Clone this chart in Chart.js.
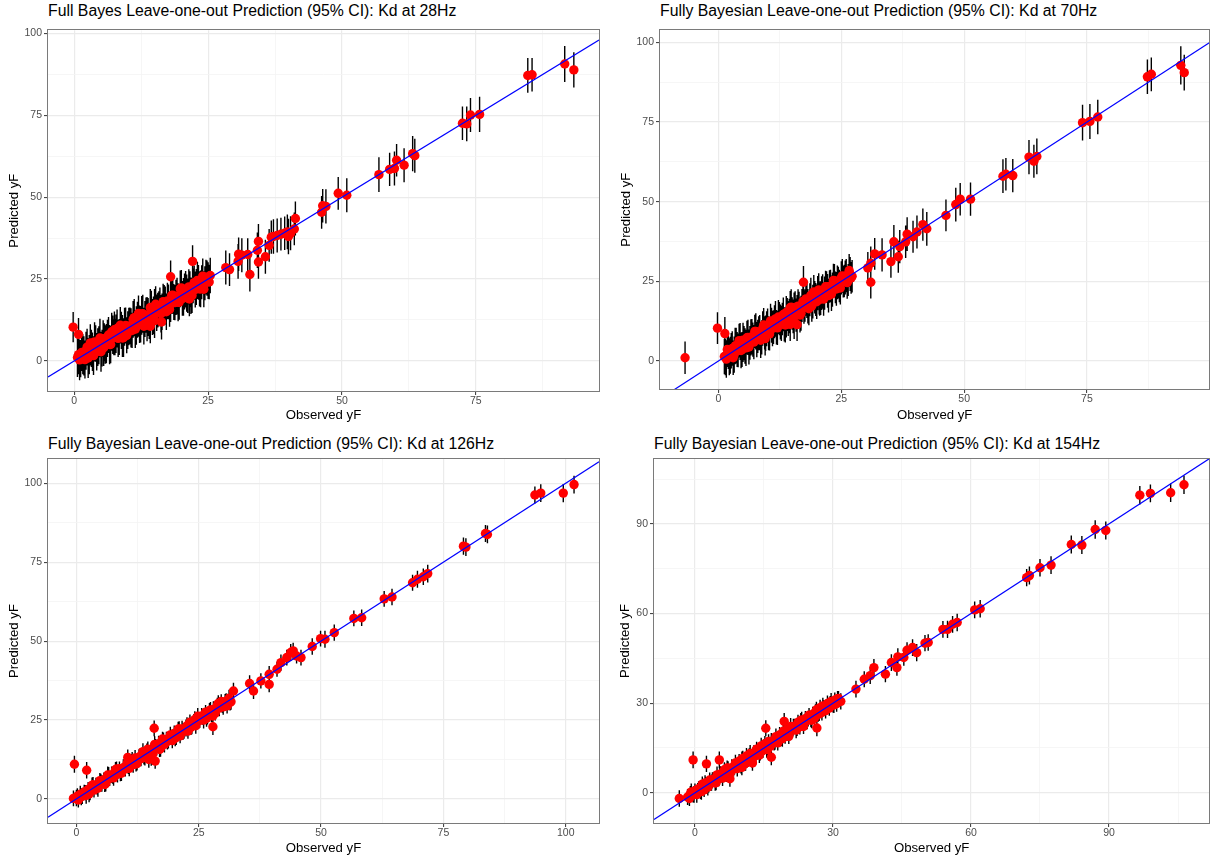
<!DOCTYPE html>
<html lang="en">
<head>
    <meta charset="UTF-8">
    <title>Fully Bayesian Leave-one-out Prediction</title>
    <script src="https://cdn.jsdelivr.net/npm/chart.js"></script>
    <style>
        body {
            margin: 0;
            background: #ffffff;
            font-family: "Liberation Sans", Arial, sans-serif;
        }
        #page {
            position: relative;
            width: 1214px;
            height: 858px;
            overflow: hidden;
            background: #ffffff;
        }
        .plot-title {
            position: absolute;
            font-size: 15.8px;
            line-height: 18px;
            color: #000000;
            white-space: nowrap;
        }
        canvas {
            position: absolute;
        }
    </style>
</head>
<body>
<div id="page">
    <div class="plot-title" id="t28">Full Bayes Leave-one-out Prediction (95% CI): Kd at 28Hz</div>
    <div class="plot-title" id="t70">Fully Bayesian Leave-one-out Prediction (95% CI): Kd at 70Hz</div>
    <div class="plot-title" id="t126">Fully Bayesian Leave-one-out Prediction (95% CI): Kd at 126Hz</div>
    <div class="plot-title" id="t154">Fully Bayesian Leave-one-out Prediction (95% CI): Kd at 154Hz</div>
    <canvas id="c28" width="607" height="406"></canvas>
    <canvas id="c70" width="607" height="406"></canvas>
    <canvas id="c126" width="607" height="408"></canvas>
    <canvas id="c154" width="607" height="408"></canvas>
</div>

<script>
    // Values: observed yF, predicted mean, half width of the 95% CI

    // 28Hz
    const obs28 = [
        0.6, 1.0, 1.4, 1.8, 2.2, 2.6, 3.0, 3.4, 3.8, 4.2,
        4.6, 5.0, 5.4, 5.8, 6.2, 6.6, 7.0, 7.4, 7.8, 8.2,
        8.6, 9.0, 9.4, 9.8, 10.2, 10.6, 11.0, 11.4, 11.8, 12.2,
        12.6, 13.0, 13.4, 13.8, 14.2, 14.6, 15.0, 15.4, 15.8, 16.2,
        16.6, 17.0, 17.4, 17.8, 18.2, 18.6, 19.0, 19.4, 19.8, 20.2,
        20.6, 21.0, 21.4, 21.8, 22.2, 22.6, 23.0, 23.4, 23.8, 24.2,
        24.6, 25.0, 25.4, -0.2, 0.8, 14.2, 16.3, 15.0, 13.6, 20.4,
        21.5, 18.0, 22.1, 5.5, 9.0, 12.0, 3.0, 7.5, 28.3, 29.0,
        30.6, 30.7, 31.3, 32.4, 32.8, 34.2, 34.4, 34.4, 35.7, 36.4,
        36.8, 37.2, 37.9, 38.6, 39.3, 39.8, 40.4, 40.0, 41.1, 41.3,
        46.2, 46.4, 47.0, 49.3, 50.9, 56.9, 58.9, 59.8, 60.2, 61.6,
        63.2, 63.6, 72.5, 73.3, 74.0, 75.7, 84.7, 85.5, 91.6, 93.3,
        0.8, 1.2, 1.6, 2.0, 2.4, 2.8, 3.2, 3.6, 4.0, 4.4,
        4.8, 5.2, 5.6, 6.0, 6.4, 6.8, 7.2, 7.6, 8.0, 8.4,
        8.8, 9.2, 9.6, 10.0, 10.4, 10.8, 11.2, 11.6, 12.0, 12.4,
        12.8, 13.2, 13.6, 14.0, 14.4, 14.8, 15.2, 15.6, 16.0, 16.4,
        16.8, 17.2, 17.6, 18.0, 18.4, 18.8, 19.2, 19.6, 20.0, 20.4,
        20.8, 21.2, 21.6, 22.0, 22.4, 22.8, 23.2, 23.6, 24.0, 24.4,
        24.8, 25.2
    ];
    const pred28 = [
        1.0, 0.3, 2.6, 1.5, 3.1, 0.9, 4.2, 2.8, 5.8, 2.8,
        4.8, 2.8, 6.8, 5.0, 6.9, 5.0, 8.9, 7.2, 8.3, 6.9,
        10.9, 8.1, 10.4, 7.8, 10.5, 10.1, 12.7, 9.7, 12.6, 11.2,
        13.9, 10.6, 14.0, 13.4, 16.3, 13.4, 16.1, 14.7, 15.9, 14.4,
        18.1, 16.9, 18.3, 15.7, 20.0, 18.0, 19.4, 17.9, 22.0, 19.1,
        21.2, 20.7, 22.6, 19.9, 22.9, 21.8, 24.6, 22.0, 24.0, 21.9,
        25.6, 24.5, 26.1, 10.3, 8.1, 10.6, 11.9, 12.3, 11.5, 19.2,
        18.9, 25.7, 30.4, 4.0, 7.0, 14.5, 5.5, 9.5, 28.5, 27.9,
        30.4, 32.6, 32.3, 32.5, 26.4, 33.8, 30.2, 36.5, 31.8, 35.3,
        37.8, 38.0, 38.3, 38.7, 39.0, 39.4, 39.0, 38.0, 40.3, 43.5,
        45.4, 47.4, 47.2, 51.2, 50.6, 56.9, 58.5, 58.8, 61.3, 59.8,
        63.3, 62.7, 72.6, 72.4, 75.1, 75.3, 87.2, 87.4, 90.7, 88.9,
        1.9, 0.7, 2.0, 0.4, 4.2, 1.9, 3.8, 1.6, 5.3, 4.2,
        7.0, 3.9, 5.7, 5.3, 7.9, 5.0, 8.0, 7.3, 9.9, 7.3,
        9.3, 7.1, 10.8, 9.4, 10.7, 9.3, 13.2, 10.8, 12.9, 11.2,
        14.4, 12.8, 13.8, 12.1, 15.8, 13.9, 17.3, 15.5, 16.7, 15.0,
        17.8, 15.0, 18.0, 17.4, 20.1, 17.8, 19.8, 17.9, 22.3, 19.9,
        21.9, 19.9, 21.9, 20.0, 23.9, 22.6, 24.0, 22.0, 25.9, 23.7,
        25.3, 24.1
    ];
    const ci28 = [
        5.9, 6.2, 5.7, 6.0, 5.8, 6.1, 5.6, 5.9, 6.0, 5.7,
        5.8, 6.1, 5.6, 5.9, 5.7, 6.0, 5.8, 5.5, 5.9, 5.7,
        5.6, 5.9, 5.8, 5.5, 5.7, 6.0, 5.6, 5.8, 5.5, 5.7,
        5.9, 5.6, 5.4, 5.8, 5.7, 5.5, 5.9, 5.6, 5.4, 5.7,
        5.5, 5.8, 5.6, 5.3, 5.7, 5.5, 5.4, 5.8, 5.6, 5.3,
        5.5, 5.7, 5.4, 5.6, 5.3, 5.5, 5.7, 5.4, 5.2, 5.5,
        5.3, 5.6, 5.4, 4.6, 5.0, 5.2, 5.4, 5.3, 5.5, 5.4,
        5.3, 5.0, 4.9, 5.6, 5.8, 5.5, 5.7, 5.6, 5.2, 5.0,
        5.3, 5.1, 5.2, 5.0, 5.2, 5.4, 5.1, 5.3, 5.2, 5.0,
        5.1, 5.3, 5.2, 5.0, 5.1, 5.3, 5.2, 5.4, 5.0, 5.2,
        5.0, 5.1, 5.2, 5.0, 5.2, 5.3, 5.1, 5.2, 5.0, 5.2,
        5.4, 5.2, 5.1, 5.3, 5.2, 5.4, 5.3, 5.1, 5.5, 5.4,
        6.0, 5.7, 6.1, 5.8, 5.6, 6.0, 5.7, 5.9, 5.6, 5.8,
        5.9, 5.6, 5.8, 6.0, 5.5, 5.7, 5.9, 5.6, 5.8, 5.5,
        5.7, 5.9, 5.5, 5.8, 5.6, 5.4, 5.7, 5.9, 5.5, 5.6,
        5.8, 5.5, 5.7, 5.4, 5.6, 5.8, 5.5, 5.3, 5.7, 5.6,
        5.4, 5.6, 5.3, 5.5, 5.7, 5.4, 5.6, 5.3, 5.5, 5.4,
        5.6, 5.3, 5.5, 5.4, 5.2, 5.5, 5.3, 5.6, 5.4, 5.2,
        5.4, 5.3
    ];

    // 70Hz
    const obs70 = [
        1.2, 1.6, 2.0, 2.4, 2.8, 3.2, 3.6, 4.0, 4.4, 4.8,
        5.2, 5.6, 6.0, 6.4, 6.8, 7.2, 7.6, 8.0, 8.4, 8.8,
        9.2, 9.6, 10.0, 10.4, 10.8, 11.2, 11.6, 12.0, 12.4, 12.8,
        13.2, 13.6, 14.0, 14.4, 14.8, 15.2, 15.6, 16.0, 16.4, 16.8,
        17.2, 17.6, 18.0, 18.4, 18.8, 19.2, 19.6, 20.0, 20.4, 20.8,
        21.2, 21.6, 22.0, 22.4, 22.8, 23.2, 23.6, 24.0, 24.4, 24.8,
        25.2, 25.6, 26.0, 26.4, 26.8, 27.2, -6.8, -0.2, 1.3, 17.3,
        14.6, 15.4, 16.0, 13.8, 9.5, 5.0, 20.5, 23.0, 30.4, 31.0,
        31.0, 31.8, 33.3, 35.1, 35.7, 36.6, 36.9, 38.1, 38.4, 39.6,
        40.4, 41.6, 42.4, 46.3, 48.3, 49.2, 51.3, 57.9, 58.5, 59.9,
        63.2, 64.2, 64.8, 74.1, 75.6, 77.2, 87.3, 88.1, 94.1, 94.8,
        1.4, 1.8, 2.2, 2.6, 3.0, 3.4, 3.8, 4.2, 4.6, 5.0,
        5.4, 5.8, 6.2, 6.6, 7.0, 7.4, 7.8, 8.2, 8.6, 9.0,
        9.4, 9.8, 10.2, 10.6, 11.0, 11.4, 11.8, 12.2, 12.6, 13.0,
        13.4, 13.8, 14.2, 14.6, 15.0, 15.4, 15.8, 16.2, 16.6, 17.0,
        17.4, 17.8, 18.2, 18.6, 19.0, 19.4, 19.8, 20.2, 20.6, 21.0,
        21.4, 21.8, 22.2, 22.6, 23.0, 23.4, 23.8, 24.2, 24.6, 25.0,
        25.4, 25.8, 26.2, 26.6, 27.0
    ];
    const pred70 = [
        1.4, 0.6, 3.0, 1.8, 3.9, 2.0, 4.8, 3.3, 6.1, 3.6,
        5.6, 4.1, 7.4, 5.7, 7.6, 5.9, 9.3, 7.7, 8.9, 7.4,
        11.3, 8.7, 11.1, 8.5, 11.2, 10.6, 13.2, 10.4, 13.3, 11.8,
        14.6, 11.3, 14.6, 14.1, 16.9, 14.0, 16.8, 15.3, 16.5, 15.0,
        18.7, 17.4, 18.9, 16.4, 20.6, 18.6, 20.0, 18.6, 22.3, 19.7,
        21.8, 21.3, 23.2, 20.5, 23.5, 22.4, 25.2, 22.6, 24.6, 22.9,
        26.7, 25.1, 26.8, 25.4, 27.3, 26.6, 1.0, 10.3, 8.6, 24.7,
        11.5, 12.2, 11.4, 12.8, 7.0, 6.5, 19.8, 21.0, 29.2, 30.7,
        24.7, 33.6, 33.3, 31.2, 37.4, 32.7, 35.9, 37.4, 39.8, 39.0,
        40.5, 42.8, 41.5, 45.7, 49.1, 50.8, 50.8, 58.0, 58.6, 58.2,
        64.0, 62.7, 64.2, 74.8, 75.2, 76.6, 89.2, 90.0, 92.8, 90.5,
        1.2, 3.6, 1.3, 3.2, 1.0, 4.7, 3.6, 6.4, 3.3, 5.1,
        4.7, 7.3, 4.4, 7.4, 6.7, 9.3, 6.7, 8.7, 6.5, 10.2,
        8.8, 10.1, 8.7, 12.6, 10.2, 12.3, 10.6, 13.8, 12.2, 13.2,
        11.5, 15.2, 13.3, 16.7, 14.9, 16.1, 14.4, 17.2, 14.4, 17.4,
        16.8, 19.5, 17.2, 19.2, 17.3, 21.7, 19.3, 21.3, 19.3, 21.3,
        19.4, 23.3, 22.0, 23.4, 21.4, 25.3, 23.1, 24.7, 23.5, 26.1,
        24.9, 26.2, 24.6, 28.4, 26.1
    ];
    const ci70 = [
        5.6, 5.9, 5.5, 5.8, 5.4, 5.7, 5.6, 5.3, 5.8, 5.5,
        5.4, 5.7, 5.5, 5.3, 5.6, 5.4, 5.7, 5.2, 5.5, 5.4,
        5.3, 5.6, 5.4, 5.2, 5.5, 5.3, 5.6, 5.4, 5.2, 5.5,
        5.3, 5.5, 5.2, 5.4, 5.6, 5.3, 5.1, 5.4, 5.2, 5.5,
        5.3, 5.1, 5.4, 5.2, 5.5, 5.3, 5.1, 5.4, 5.2, 5.3,
        5.4, 5.2, 5.0, 5.3, 5.1, 5.4, 5.2, 5.3, 5.0, 5.2,
        5.3, 5.1, 5.2, 5.0, 5.3, 5.1, 5.1, 5.0, 5.2, 5.1,
        5.2, 5.3, 5.1, 5.4, 5.3, 5.5, 5.2, 5.3, 5.0, 5.2,
        5.1, 5.0, 5.2, 5.1, 5.3, 5.0, 5.2, 5.1, 5.3, 5.0,
        5.2, 5.1, 5.3, 5.0, 5.3, 5.1, 5.2, 5.3, 5.1, 5.2,
        5.4, 5.2, 5.6, 5.6, 5.5, 5.4, 5.4, 5.3, 6.0, 5.6,
        5.7, 5.5, 5.8, 5.6, 5.4, 5.7, 5.5, 5.3, 5.6, 5.4,
        5.6, 5.3, 5.5, 5.7, 5.4, 5.2, 5.5, 5.3, 5.6, 5.4,
        5.2, 5.5, 5.3, 5.4, 5.6, 5.2, 5.4, 5.3, 5.5, 5.1,
        5.4, 5.2, 5.5, 5.3, 5.1, 5.4, 5.2, 5.3, 5.5, 5.2,
        5.1, 5.3, 5.4, 5.2, 5.0, 5.3, 5.2, 5.4, 5.1, 5.3,
        5.2, 5.0, 5.3, 5.1, 5.4, 5.2, 5.0, 5.3, 5.1, 5.2,
        5.0, 5.3, 5.1, 5.2, 5.0
    ];

    // 126Hz
    const obs126 = [
        0.0, 0.4, 0.8, 1.2, 1.6, 2.0, 2.4, 2.8, 3.2, 3.6,
        4.0, 4.4, 4.8, 5.2, 5.6, 6.0, 6.4, 6.8, 7.2, 7.6,
        8.0, 8.4, 8.8, 9.2, 9.6, 10.0, 10.4, 10.8, 11.2, 11.6,
        12.0, 12.4, 12.8, 13.2, 13.6, 14.0, 14.4, 14.8, 15.2, 15.6,
        16.0, 16.4, 16.8, 17.2, 17.6, 18.0, 18.4, 18.8, 19.2, 19.6,
        20.0, 20.4, 20.8, 21.2, 21.6, 22.0, 22.4, 22.8, 23.2, 23.6,
        24.0, 24.4, 24.8, 25.2, 25.6, 26.0, 26.4, 26.8, 27.2, 27.6,
        28.0, 28.4, 28.8, 29.2, 29.6, 30.0, 30.4, 30.8, 31.2, 31.6,
        -0.6, -0.4, 2.1, 15.9, 16.1, 14.8, 15.3, 27.9, 27.9, 32.1,
        10.5, 35.4, 36.2, 37.7, 39.4, 39.4, 41.0, 41.8, 43.0, 43.8,
        44.3, 45.9, 45.0, 48.2, 49.9, 50.8, 52.7, 56.7, 58.3, 62.9,
        64.5, 68.7, 69.7, 70.9, 71.8, 79.1, 79.6, 83.6, 84.0, 93.7,
        94.9, 99.5, 101.7,
        0.2, 1.0, 1.8, 2.6, 3.4, 4.2, 5.0, 5.8, 6.6, 7.4,
        8.2, 9.0, 9.8, 10.6, 11.4, 12.2, 13.0, 13.8, 14.6, 15.4,
        16.2, 17.0, 17.8, 18.6, 19.4, 20.2, 21.0, 21.8, 22.6, 23.4,
        24.2, 25.0, 25.8, 26.6, 27.4, 28.2, 29.0, 29.8, 30.6, 31.4
    ];
    const pred126 = [
        0.3, -0.3, 1.5, 0.9, 2.2, 1.1, 3.0, 2.3, 4.3, 2.8,
        4.2, 3.4, 5.8, 4.9, 6.1, 4.9, 7.6, 6.5, 7.7, 6.7,
        9.3, 7.8, 9.6, 8.2, 9.9, 9.5, 11.5, 9.7, 11.9, 10.9,
        13.0, 11.3, 13.2, 12.8, 15.0, 13.1, 15.2, 14.3, 15.3, 14.2,
        17.3, 16.2, 17.5, 16.1, 19.0, 17.3, 18.9, 18.5, 20.3, 18.5,
        20.8, 19.7, 22.1, 20.0, 22.2, 21.6, 22.5, 21.5, 24.3, 23.1,
        24.5, 23.2, 26.2, 24.9, 26.3, 25.0, 27.5, 26.2, 28.0, 26.9,
        28.4, 27.3, 29.6, 28.8, 30.9, 29.2, 30.7, 29.5, 31.9, 30.8,
        0.2, 11.0, 9.1, 22.4, 12.0, 12.5, 13.0, 22.9, 26.3, 34.2,
        13.2, 36.6, 34.2, 37.4, 39.5, 36.3, 41.1, 43.2, 44.8, 46.4,
        46.9, 44.8, 45.3, 48.3, 50.8, 50.6, 52.7, 57.2, 57.4, 63.4,
        64.0, 68.5, 69.6, 70.4, 71.4, 80.1, 79.8, 84.1, 83.8, 96.3,
        96.9, 96.9, 99.6,
        0.9, 0.7, 2.0, 1.6, 4.5, 3.7, 5.4, 4.6, 7.4, 7.3,
        9.5, 8.2, 9.9, 10.2, 12.3, 11.1, 13.5, 13.6, 15.8, 14.7,
        16.5, 15.7, 18.5, 18.2, 19.6, 19.3, 22.2, 21.3, 23.2, 22.7,
        25.2, 24.8, 25.9, 25.5, 28.2, 27.6, 30.3, 29.7, 31.0, 30.6
    ];
    const ci126 = [
        2.6, 2.4, 2.7, 2.5, 2.3, 2.6, 2.4, 2.7, 2.5, 2.3,
        2.5, 2.7, 2.4, 2.6, 2.3, 2.5, 2.7, 2.4, 2.6, 2.5,
        2.4, 2.6, 2.3, 2.5, 2.7, 2.4, 2.6, 2.5, 2.3, 2.6,
        2.5, 2.3, 2.6, 2.4, 2.7, 2.5, 2.4, 2.6, 2.3, 2.5,
        2.6, 2.4, 2.5, 2.7, 2.3, 2.6, 2.4, 2.5, 2.6, 2.4,
        2.5, 2.6, 2.4, 2.3, 2.6, 2.5, 2.7, 2.4, 2.5, 2.6,
        2.4, 2.5, 2.6, 2.4, 2.5, 2.7, 2.3, 2.6, 2.4, 2.5,
        2.6, 2.4, 2.5, 2.6, 2.3, 2.5, 2.6, 2.4, 2.7, 2.5,
        2.5, 2.7, 2.6, 2.5, 2.4, 2.6, 2.5, 2.6, 2.4, 2.6,
        2.5, 2.6, 2.5, 2.4, 2.6, 2.5, 2.4, 2.6, 2.5, 2.7,
        2.6, 2.5, 2.4, 2.6, 2.5, 2.7, 2.6, 2.5, 2.6, 2.5,
        2.6, 2.5, 2.7, 2.6, 2.8, 2.7, 2.8, 2.7, 2.8, 2.7,
        2.8, 2.9, 2.8,
        2.5, 2.7, 2.4, 2.6, 2.5, 2.3, 2.6, 2.4, 2.7, 2.5,
        2.4, 2.6, 2.5, 2.3, 2.6, 2.4, 2.5, 2.7, 2.4, 2.6,
        2.5, 2.4, 2.6, 2.5, 2.3, 2.6, 2.4, 2.5, 2.7, 2.4,
        2.6, 2.5, 2.4, 2.6, 2.5, 2.3, 2.6, 2.4, 2.5, 2.6
    ];

    // 154Hz
    const obs154 = [
        -1.6, -1.2, -0.8, -0.4, 0.0, 0.4, 0.8, 1.2, 1.6, 2.0,
        2.4, 2.8, 3.2, 3.6, 4.0, 4.4, 4.8, 5.2, 5.6, 6.0,
        6.4, 6.8, 7.2, 7.6, 8.0, 8.4, 8.8, 9.2, 9.6, 10.0,
        10.4, 10.8, 11.2, 11.6, 12.0, 12.4, 12.8, 13.2, 13.6, 14.0,
        14.4, 14.8, 15.2, 15.6, 16.0, 16.4, 16.8, 17.2, 17.6, 18.0,
        18.4, 18.8, 19.2, 19.6, 20.0, 20.4, 20.8, 21.2, 21.6, 22.0,
        22.4, 22.8, 23.2, 23.6, 24.0, 24.4, 24.8, 25.2, 25.6, 26.0,
        26.4, 26.8, 27.2, 27.6, 28.0, 28.4, 28.8, 29.2, 29.6, 30.0,
        30.4, 30.8, 31.2, -3.4, -0.4, 2.5, 5.3, 7.6, 15.4, 19.4,
        16.6, 26.5, 31.7, 12.5, 10.2, 35.0, 36.8, 38.1, 38.9, 41.4,
        42.7, 43.9, 44.1, 45.4, 46.1, 47.3, 48.2, 50.0, 50.7, 53.9,
        54.9, 56.0, 57.0, 60.8, 62.0, 72.1, 72.7, 75.0, 77.4, 81.8,
        84.1, 87.0, 89.3, 96.7, 99.0, 103.4, 106.3,
        -1.0, -0.2, 0.6, 1.4, 2.2, 3.0, 3.8, 4.6, 5.4, 6.2,
        7.0, 7.8, 8.6, 9.4, 10.2, 11.0, 11.8, 12.6, 13.4, 14.2,
        15.0, 15.8, 16.6, 17.4, 18.2, 19.0, 19.8, 20.6, 21.4, 22.2,
        23.0, 23.8, 24.6, 25.4, 26.2, 27.0, 27.8, 28.6, 29.4, 30.2,
        31.0
    ];
    const pred154 = [
        -1.4, -1.9, 0.3, -0.6, 0.7, -0.6, 1.4, 0.7, 2.9, 1.0,
        2.6, 1.9, 4.3, 3.4, 4.5, 3.3, 6.0, 4.7, 6.1, 4.9,
        7.7, 6.3, 8.2, 6.6, 8.4, 8.0, 10.0, 8.1, 10.6, 9.2,
        11.5, 9.7, 12.3, 11.2, 13.2, 11.0, 13.4, 12.4, 13.7, 12.6,
        15.7, 14.2, 16.4, 14.5, 17.2, 15.6, 17.1, 16.8, 18.8, 16.7,
        19.4, 18.4, 20.6, 18.8, 20.1, 18.9, 22.2, 21.1, 22.2, 21.0,
        23.6, 22.1, 24.4, 22.2, 24.8, 24.1, 26.0, 24.6, 26.3, 25.0,
        27.8, 26.3, 28.5, 26.9, 28.6, 27.5, 29.9, 28.3, 30.6, 29.5,
        31.0, 29.8, 31.6, -1.9, 11.0, 9.7, 11.0, 4.7, 21.6, 23.9,
        11.9, 21.7, 30.6, 10.0, 8.5, 34.7, 38.0, 39.2, 41.9, 39.7,
        43.6, 41.9, 45.5, 45.3, 47.7, 48.6, 46.9, 50.1, 50.3, 54.7,
        54.7, 56.4, 57.0, 61.2, 61.6, 72.0, 72.7, 75.3, 76.2, 83.1,
        82.9, 88.1, 87.8, 99.6, 100.2, 100.4, 103.1,
        -0.3, -0.5, 0.8, 0.4, 3.3, 2.5, 4.2, 3.4, 6.2, 6.1,
        8.3, 7.0, 8.7, 9.0, 11.1, 9.9, 12.3, 12.4, 14.6, 13.5,
        15.3, 14.5, 17.3, 17.0, 18.4, 18.1, 21.0, 20.1, 22.0, 21.5,
        24.0, 23.6, 24.7, 24.3, 27.0, 26.4, 29.1, 28.5, 29.8, 29.4,
        31.5
    ];
    const ci154 = [
        2.7, 2.5, 2.8, 2.6, 2.4, 2.7, 2.5, 2.8, 2.6, 2.4,
        2.6, 2.8, 2.5, 2.7, 2.4, 2.6, 2.8, 2.5, 2.7, 2.6,
        2.5, 2.7, 2.4, 2.6, 2.8, 2.5, 2.7, 2.6, 2.4, 2.7,
        2.6, 2.4, 2.7, 2.5, 2.8, 2.6, 2.5, 2.7, 2.4, 2.6,
        2.7, 2.5, 2.6, 2.8, 2.4, 2.7, 2.5, 2.6, 2.7, 2.5,
        2.6, 2.7, 2.5, 2.4, 2.7, 2.6, 2.8, 2.5, 2.6, 2.7,
        2.5, 2.6, 2.7, 2.5, 2.6, 2.8, 2.4, 2.7, 2.5, 2.6,
        2.7, 2.5, 2.6, 2.7, 2.4, 2.6, 2.7, 2.5, 2.8, 2.6,
        2.6, 2.7, 2.5, 2.8, 2.8, 2.7, 2.8, 2.7, 2.7, 2.8,
        2.7, 2.8, 2.7, 2.6, 2.6, 2.8, 2.7, 2.8, 2.9, 2.7,
        2.8, 2.7, 2.9, 2.8, 2.7, 2.8, 2.9, 2.7, 2.8, 2.8,
        2.9, 2.8, 2.9, 2.8, 2.9, 2.9, 3.0, 2.9, 3.0, 3.0,
        3.0, 3.1, 3.0, 3.1, 3.0, 3.1, 3.1,
        2.6, 2.8, 2.5, 2.7, 2.6, 2.4, 2.7, 2.5, 2.8, 2.6,
        2.5, 2.7, 2.6, 2.4, 2.7, 2.5, 2.6, 2.8, 2.5, 2.7,
        2.6, 2.5, 2.7, 2.6, 2.4, 2.7, 2.5, 2.6, 2.8, 2.5,
        2.7, 2.6, 2.5, 2.7, 2.6, 2.4, 2.7, 2.5, 2.6, 2.7,
        2.6
    ];

    // tick labels
    const xTicks28 = [0, 25, 50, 75];
    const yTicks28 = [0, 25, 50, 75, 100];
    const xTicks70 = [0, 25, 50, 75];
    const yTicks70 = [0, 25, 50, 75, 100];
    const xTicks126 = [0, 25, 50, 75, 100];
    const yTicks126 = [0, 25, 50, 75, 100];
    const xTicks154 = [0, 30, 60, 90];
    const yTicks154 = [0, 30, 60, 90];

    const FONT = '"Liberation Sans", Arial, Helvetica, sans-serif';

    // page layout of each panel (canvas box and plotting area, page pixels)
    const panels = [
        { id: 'c28', title: 't28', obs: obs28, pred: pred28, ci: ci28, xTicks: xTicks28, yTicks: yTicks28,
          xRange: [-4.9, 98.0], yRange: [-9.2, 101.0],
          box: { x: 0, y: 22, w: 607, h: 406 }, area: { l: 48, t: 26, r: 599, b: 391 },
          titleTop: 2, yTitlePad: 6, xTitlePad: 4.4 },
        { id: 'c70', title: 't70', obs: obs70, pred: pred70, ci: ci70, xTicks: xTicks70, yTicks: yTicks70,
          xRange: [-11.9, 99.9], yRange: [-8.8, 103.8],
          box: { x: 607, y: 22, w: 607, h: 406 }, area: { l: 660, t: 25, r: 1213, b: 389 },
          titleTop: 2, yTitlePad: 11, xTitlePad: 4.4 },
        { id: 'c126', title: 't126', obs: obs126, pred: pred126, ci: ci126, xTicks: xTicks126, yTicks: yTicks126,
          xRange: [-5.8, 106.8], yRange: [-7.6, 107.7],
          box: { x: 0, y: 450, w: 607, h: 408 }, area: { l: 48, t: 459, r: 599, b: 823 },
          titleTop: 435, yTitlePad: 6, xTitlePad: 1.4 },
        { id: 'c154', title: 't154', obs: obs154, pred: pred154, ci: ci154, xTicks: xTicks154, yTicks: yTicks154,
          xRange: [-8.9, 111.8], yRange: [-10.1, 111.7],
          box: { x: 607, y: 450, w: 607, h: 408 }, area: { l: 654, t: 459, r: 1213, b: 823 },
          titleTop: 435, yTitlePad: 10.5, xTitlePad: 1.4 }
    ];

    // frame around the panel, like theme_bw
    const panelBorder = {
        id: 'panelBorder',
        afterDatasetsDraw(chart) {
            const { ctx, chartArea: a } = chart;
            ctx.save();
            ctx.strokeStyle = '#7a7a7a';
            ctx.lineWidth = 1;
            ctx.strokeRect(Math.round(a.left) - 0.5, Math.round(a.top) - 0.5,
                Math.round(a.right - a.left) + 1, Math.round(a.bottom - a.top) + 1);
            ctx.restore();
        }
    };

    // majors plus the minor breaks half way between them
    function gridValues(majors, min, max) {
        const half = (majors[1] - majors[0]) / 2;
        const vals = [];
        for (let v = Math.ceil(min / half) * half; v <= max; v += half) vals.push(v);
        return vals;
    }

    function axis(majors, range, title, isX, titlePad, size) {
        const isMajor = v => majors.some(m => Math.abs(m - v) < 1e-6);
        return {
            type: 'linear',
            position: isX ? 'bottom' : 'left',
            min: range[0],
            max: range[1],
            afterBuildTicks: s => {
                s.ticks = gridValues(majors, range[0], range[1]).map(v => ({ value: v }));
            },
            afterFit: s => {
                if (isX) s.height = size; else s.width = size;
            },
            ticks: {
                autoSkip: false,
                maxRotation: 0,
                padding: isX ? 0 : 2,
                color: '#4D4D4D',
                font: { family: FONT, size: 10.5 },
                callback: v => isMajor(v) ? String(v) : ''
            },
            grid: {
                color: c => isMajor(c.tick.value) ? '#EBEBEB' : '#F4F4F4',
                lineWidth: c => isMajor(c.tick.value) ? 1.2 : 0.8,
                drawTicks: true,
                tickLength: 4,
                tickWidth: 1,
                tickColor: c => isMajor(c.tick.value) ? '#333333' : 'rgba(0,0,0,0)'
            },
            border: { display: false },
            title: {
                display: true,
                text: title,
                color: '#000000',
                font: { family: FONT, size: 13.2 },
                padding: isX ? { top: 0, bottom: titlePad } : { top: titlePad, bottom: 0 }
            }
        };
    }

    panels.forEach(p => {
        const canvas = document.getElementById(p.id);
        canvas.style.left = p.box.x + 'px';
        canvas.style.top = p.box.y + 'px';
        canvas.style.width = p.box.w + 'px';
        canvas.style.height = p.box.h + 'px';

        const title = document.getElementById(p.title);
        title.style.left = p.area.l + 'px';
        title.style.top = p.titleTop + 'px';

        const points = p.obs.map((x, i) => ({ x: x, y: p.pred[i] }));
        const bars = [];
        p.obs.forEach((x, i) => {
            bars.push({ x: x, y: p.pred[i] - p.ci[i] }, { x: x, y: p.pred[i] + p.ci[i] }, { x: x, y: null });
        });
        // y = x reference line across the whole panel
        const diag = [{ x: p.xRange[0], y: p.xRange[0] }, { x: p.xRange[1], y: p.xRange[1] }];

        new Chart(canvas, {
            type: 'scatter',
            data: {
                datasets: [
                    {
                        type: 'line', data: diag, order: 0,
                        borderColor: '#0000FF', borderWidth: 1.2,
                        pointRadius: 0, fill: false
                    },
                    {
                        type: 'scatter', data: points, order: 1,
                        pointRadius: 4.7, pointBackgroundColor: '#FF0000',
                        pointBorderWidth: 0, pointBorderColor: '#FF0000'
                    },
                    {
                        type: 'line', data: bars, order: 2,
                        borderColor: '#000000', borderWidth: 1.4,
                        pointRadius: 0, spanGaps: false, fill: false
                    }
                ]
            },
            options: {
                responsive: false,
                devicePixelRatio: 1,
                animation: false,
                events: [],
                layout: {
                    padding: {
                        left: 0,
                        top: p.area.t - p.box.y,
                        right: p.box.x + p.box.w - p.area.r,
                        bottom: 0
                    }
                },
                plugins: {
                    legend: { display: false },
                    tooltip: { enabled: false },
                    title: { display: false }
                },
                scales: {
                    x: axis(p.xTicks, p.xRange, 'Observed yF', true, p.xTitlePad, p.box.y + p.box.h - p.area.b),
                    y: axis(p.yTicks, p.yRange, 'Predicted yF', false, p.yTitlePad, p.area.l - p.box.x)
                }
            },
            plugins: [panelBorder]
        });
    });
</script>
</body>
</html>
